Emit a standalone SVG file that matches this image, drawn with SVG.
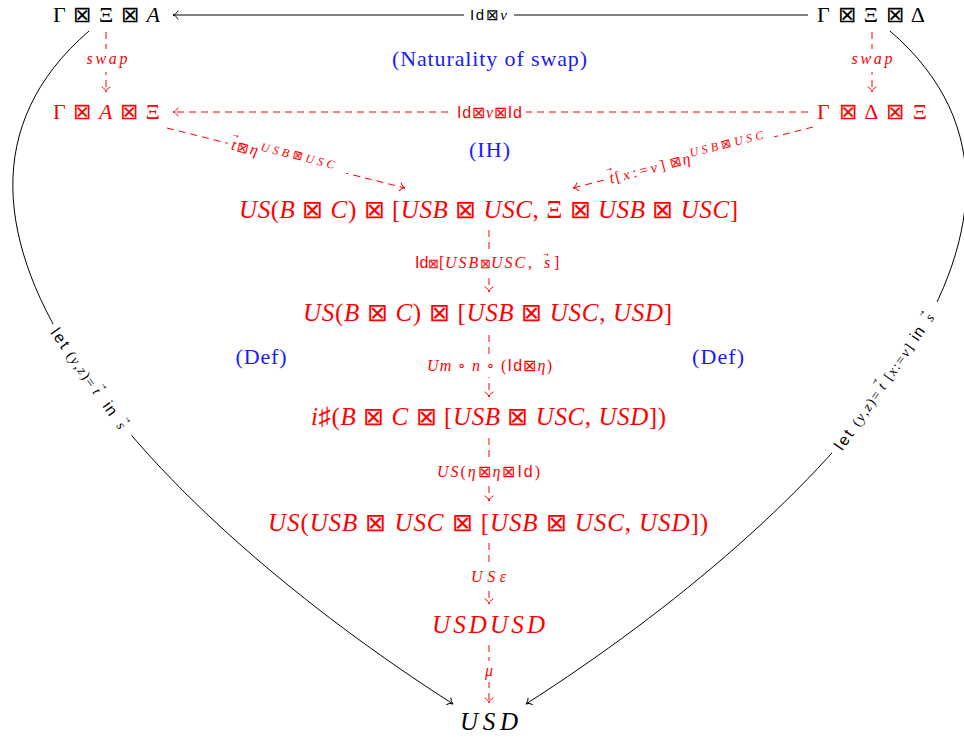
<svg xmlns="http://www.w3.org/2000/svg" width="964" height="740" viewBox="0 0 964 740">
<style>
text { font-family: "Liberation Serif", "DejaVu Serif", serif; }
.i { font-style: italic; }
.sf { font-family: "Liberation Sans", "DejaVu Sans", sans-serif; font-style: normal; }
.bx { font-family: "DejaVu Sans", sans-serif; font-weight: 200; font-style: normal; }
.vec { font-family: "DejaVu Sans", sans-serif; font-size: 7px; font-style: normal; }
.k { fill: none; stroke: #000; stroke-width: 1; }
.r { fill: none; stroke: #f00; stroke-width: 1; stroke-dasharray: 7 5; }
.bg { fill: #fff; stroke: none; }
.node { font-size: 22px; fill: #000; }
.rnode { font-size: 22px; fill: #f00; }
.row { font-size: 25px; fill: #f00; }
.lbl { font-size: 16px; fill: #f00; }
.klbl { font-size: 15px; fill: #000; }
.curvelbl { font-size: 14px; fill: #000; }
.sup { font-size: 12px; }
.note { font-size: 22px; fill: #1a1aff; }
</style>
<defs>
<marker id="ak" markerWidth="10" markerHeight="10" refX="0" refY="0" orient="auto" markerUnits="userSpaceOnUse" overflow="visible">
<path d="M-5,-4 C-3.8,-1.6 -1.6,-0.4 0,0 C-1.6,0.4 -3.8,1.6 -5,4" fill="none" stroke="#000" stroke-width="1" stroke-linecap="round"/>
</marker>
<marker id="ar" markerWidth="10" markerHeight="10" refX="0" refY="0" orient="auto" markerUnits="userSpaceOnUse" overflow="visible">
<path d="M-5,-4 C-3.8,-1.6 -1.6,-0.4 0,0 C-1.6,0.4 -3.8,1.6 -5,4" fill="none" stroke="#f00" stroke-width="1" stroke-linecap="round"/>
</marker>
</defs>

<g id="connectors">
  <g id="e-top">
    <path class="k" d="M808,15 H173" marker-end="url(#ak)"/>
    <rect class="bg" x="464" y="6" width="50" height="20"/>
    <text class="klbl" x="488.5" y="20" text-anchor="middle" textLength="37" lengthAdjust="spacing"><tspan class="sf">Id</tspan><tspan class="bx">⊠</tspan><tspan class="i">v</tspan></text>
  </g>
  <g id="e-swapL">
    <path class="r" d="M106,32 V92" marker-end="url(#ar)"/>
    <rect class="bg" x="84" y="49" width="46" height="23"/>
    <text class="lbl i" x="107" y="64" text-anchor="middle" textLength="41" lengthAdjust="spacing" font-size="17">swap</text>
  </g>
  <g id="e-swapR">
    <path class="r" d="M872,32 V92" marker-end="url(#ar)"/>
    <rect class="bg" x="850" y="49" width="46" height="23"/>
    <text class="lbl i" x="872" y="64" text-anchor="middle" textLength="41" lengthAdjust="spacing" font-size="17">swap</text>
  </g>
  <g id="e-mid">
    <path class="r" d="M808,112 H173" marker-end="url(#ar)"/>
    <rect class="bg" x="453" y="103" width="73" height="20"/>
    <text class="lbl" x="489.5" y="118" text-anchor="middle" textLength="65" lengthAdjust="spacing" font-size="15"><tspan class="sf">Id</tspan><tspan class="bx">⊠</tspan><tspan class="i">v</tspan><tspan class="bx">⊠</tspan><tspan class="sf">Id</tspan></text>
  </g>
  <g id="e-diagL">
    <path class="r" d="M167,128 L405,188" marker-end="url(#ar)"/>
    <g transform="translate(287,158.3) rotate(14.15)">
      <rect class="bg" x="-61" y="-13" width="122" height="25"/>
      <text class="lbl" x="-57" y="5"><tspan class="i">t</tspan><tspan class="vec" x="-58" dy="-12">→</tspan><tspan class="bx" x="-51" dy="12" font-size="14">⊠</tspan><tspan class="i" x="-38">η</tspan><tspan class="i sup" x="-28" dy="-6" letter-spacing="3.5">USB</tspan><tspan class="bx sup" letter-spacing="3.5">⊠</tspan><tspan class="i sup" letter-spacing="3.5">USC</tspan></text>
    </g>
  </g>
  <g id="e-diagR">
    <path class="r" d="M813,127 L573,188" marker-end="url(#ar)"/>
    <g transform="translate(690,158.3) rotate(-14.28)">
      <rect class="bg" x="-87" y="-13" width="174" height="25"/>
      <text class="lbl" x="-83" y="5"><tspan class="i">t</tspan><tspan class="vec" x="-84" dy="-12">→</tspan><tspan x="-77" dy="12" font-size="15" letter-spacing="3">[<tspan class="i">x</tspan>:=<tspan class="i">v</tspan>]</tspan><tspan class="bx" x="-21" font-size="14">⊠</tspan><tspan class="i" x="-8">η</tspan><tspan class="i sup" x="1" dy="-6" letter-spacing="3.5">USB</tspan><tspan class="bx sup" letter-spacing="3.5">⊠</tspan><tspan class="i sup" letter-spacing="3.5">USC</tspan></text>
    </g>
  </g>
  <g id="e-c1">
    <path class="r" d="M489,230 V292" marker-end="url(#ar)"/>
    <rect class="bg" x="412" y="250" width="154" height="24"/>
    <text class="lbl" x="415" y="268" font-size="15"><tspan class="sf">Id</tspan><tspan class="bx" x="428" font-size="13">⊠</tspan><tspan x="439">[</tspan><tspan class="i" x="445" letter-spacing="2">USB</tspan><tspan class="bx" x="480" font-size="13">⊠</tspan><tspan class="i" x="491" letter-spacing="2">USC</tspan><tspan x="528">,</tspan><tspan class="i" x="544">s</tspan><tspan class="vec" x="543" dy="-11">→</tspan><tspan x="554" dy="11">]</tspan></text>
  </g>
  <g id="e-c2">
    <path class="r" d="M489,335 V397" marker-end="url(#ar)"/>
    <rect class="bg" x="424" y="356" width="131" height="21"/>
    <text class="lbl" x="489.5" y="371" text-anchor="middle" textLength="125" lengthAdjust="spacing"><tspan class="i">Um</tspan> ∘ <tspan class="i">n</tspan> ∘ (<tspan class="sf">Id</tspan><tspan class="bx">⊠</tspan><tspan class="i">η</tspan>)</text>
  </g>
  <g id="e-c3">
    <path class="r" d="M489,438 V501" marker-end="url(#ar)"/>
    <rect class="bg" x="434" y="461" width="110" height="21"/>
    <text class="lbl" x="488.5" y="477" text-anchor="middle" textLength="103" lengthAdjust="spacing"><tspan class="i">US</tspan>(<tspan class="i">η</tspan><tspan class="bx">⊠</tspan><tspan class="i">η</tspan><tspan class="bx">⊠</tspan><tspan class="sf">Id</tspan>)</text>
  </g>
  <g id="e-c4">
    <path class="r" d="M489,543 V604" marker-end="url(#ar)"/>
    <rect class="bg" x="467" y="566" width="44" height="21"/>
    <text class="lbl i" x="488.5" y="582" text-anchor="middle" textLength="35" lengthAdjust="spacing">USε</text>
  </g>
  <g id="e-c5">
    <path class="r" d="M489,645 V703" marker-end="url(#ar)"/>
    <rect class="bg" x="481" y="661" width="16" height="21"/>
    <text class="lbl i" x="489" y="676" text-anchor="middle">μ</text>
  </g>
  <g id="e-left">
    <path class="k" d="M89,31 C-128,218 158,515 453,704" marker-end="url(#ak)"/>
    <g transform="translate(90,381.5) rotate(54.6)">
      <rect class="bg" x="-68" y="-14" width="136" height="27"/>
      <text class="curvelbl" x="-63" y="4.5"><tspan class="sf" font-size="16" letter-spacing="2">let</tspan><tspan x="-35" letter-spacing="1.5">(<tspan class="i">y</tspan>,<tspan class="i">z</tspan>)=</tspan><tspan class="i" x="10">t</tspan><tspan class="vec" x="9" dy="-11">→</tspan><tspan class="sf" x="27" dy="11" font-size="16" letter-spacing="1">in</tspan><tspan class="i" x="51">s</tspan><tspan class="vec" x="50" dy="-11">→</tspan></text>
    </g>
  </g>
  <g id="e-right">
    <path class="k" d="M890,31 C1107,218 821,515 526,704" marker-end="url(#ak)"/>
    <g transform="translate(887,379) rotate(-55.3)">
      <rect class="bg" x="-92" y="-15" width="184" height="30"/>
      <text class="curvelbl" x="-85" y="4.5"><tspan class="sf" font-size="16" letter-spacing="2">let</tspan><tspan x="-56" letter-spacing="1.5">(<tspan class="i">y</tspan>,<tspan class="i">z</tspan>)=</tspan><tspan class="i" x="-11">t</tspan><tspan class="vec" x="-12" dy="-11">→</tspan><tspan x="0" dy="11" letter-spacing="1.5">[<tspan class="i">x</tspan>:=<tspan class="i">v</tspan>]</tspan><tspan class="sf" x="48" font-size="16" letter-spacing="1">in</tspan><tspan class="i" x="72">s</tspan><tspan class="vec" x="71" dy="-11">→</tspan></text>
    </g>
  </g>
</g>

<g id="n-GXA"><text class="node" x="106.5" y="22" text-anchor="middle" textLength="107" lengthAdjust="spacing">Γ <tspan class="bx">⊠</tspan> Ξ <tspan class="bx">⊠</tspan> <tspan class="i">A</tspan></text></g>
<g id="n-GXD"><text class="node" x="871" y="22" text-anchor="middle" textLength="108" lengthAdjust="spacing">Γ <tspan class="bx">⊠</tspan> Ξ <tspan class="bx">⊠</tspan> Δ</text></g>
<g id="n-GAX"><text class="rnode" x="106.5" y="119" text-anchor="middle" textLength="107" lengthAdjust="spacing">Γ <tspan class="bx">⊠</tspan> <tspan class="i">A</tspan> <tspan class="bx">⊠</tspan> Ξ</text></g>
<g id="n-GDX"><text class="rnode" x="872" y="119" text-anchor="middle" textLength="110" lengthAdjust="spacing">Γ <tspan class="bx">⊠</tspan> Δ <tspan class="bx">⊠</tspan> Ξ</text></g>

<g id="n-r1"><text class="row" x="488.5" y="218" text-anchor="middle" textLength="499" lengthAdjust="spacing"><tspan class="i">US</tspan>(<tspan class="i">B</tspan> <tspan class="bx">⊠</tspan> <tspan class="i">C</tspan>) <tspan class="bx">⊠</tspan> [<tspan class="i">USB</tspan> <tspan class="bx">⊠</tspan> <tspan class="i">USC</tspan>, Ξ <tspan class="bx">⊠</tspan> <tspan class="i">USB</tspan> <tspan class="bx">⊠</tspan> <tspan class="i">USC</tspan>]</text></g>
<g id="n-r2"><text class="row" x="487.5" y="321" text-anchor="middle" textLength="369" lengthAdjust="spacing"><tspan class="i">US</tspan>(<tspan class="i">B</tspan> <tspan class="bx">⊠</tspan> <tspan class="i">C</tspan>) <tspan class="bx">⊠</tspan> [<tspan class="i">USB</tspan> <tspan class="bx">⊠</tspan> <tspan class="i">USC</tspan>, <tspan class="i">USD</tspan>]</text></g>
<g id="n-r3"><text class="row" x="488.5" y="425" text-anchor="middle" textLength="355" lengthAdjust="spacing"><tspan class="i">i</tspan>♯(<tspan class="i">B</tspan> <tspan class="bx">⊠</tspan> <tspan class="i">C</tspan> <tspan class="bx">⊠</tspan> [<tspan class="i">USB</tspan> <tspan class="bx">⊠</tspan> <tspan class="i">USC</tspan>, <tspan class="i">USD</tspan>])</text></g>
<g id="n-r4"><text class="row" x="488" y="531" text-anchor="middle" textLength="440" lengthAdjust="spacing"><tspan class="i">US</tspan>(<tspan class="i">USB</tspan> <tspan class="bx">⊠</tspan> <tspan class="i">USC</tspan> <tspan class="bx">⊠</tspan> [<tspan class="i">USB</tspan> <tspan class="bx">⊠</tspan> <tspan class="i">USC</tspan>, <tspan class="i">USD</tspan>])</text></g>
<g id="n-r5"><text class="row i" x="488.5" y="633" text-anchor="middle" textLength="113" lengthAdjust="spacing">USDUSD</text></g>
<g id="n-USD"><text class="row i" x="489" y="730" text-anchor="middle" textLength="58" lengthAdjust="spacing" style="fill:#000">USD</text></g>

<g id="notes">
  <text class="note" x="489.5" y="66" text-anchor="middle" textLength="195" lengthAdjust="spacing">(Naturality of swap)</text>
  <text class="note" x="489.5" y="157" text-anchor="middle" textLength="41" lengthAdjust="spacing">(IH)</text>
  <text class="note" x="261" y="364" text-anchor="middle" textLength="51" lengthAdjust="spacing">(Def)</text>
  <text class="note" x="718" y="364" text-anchor="middle" textLength="52" lengthAdjust="spacing">(Def)</text>
</g>
</svg>
